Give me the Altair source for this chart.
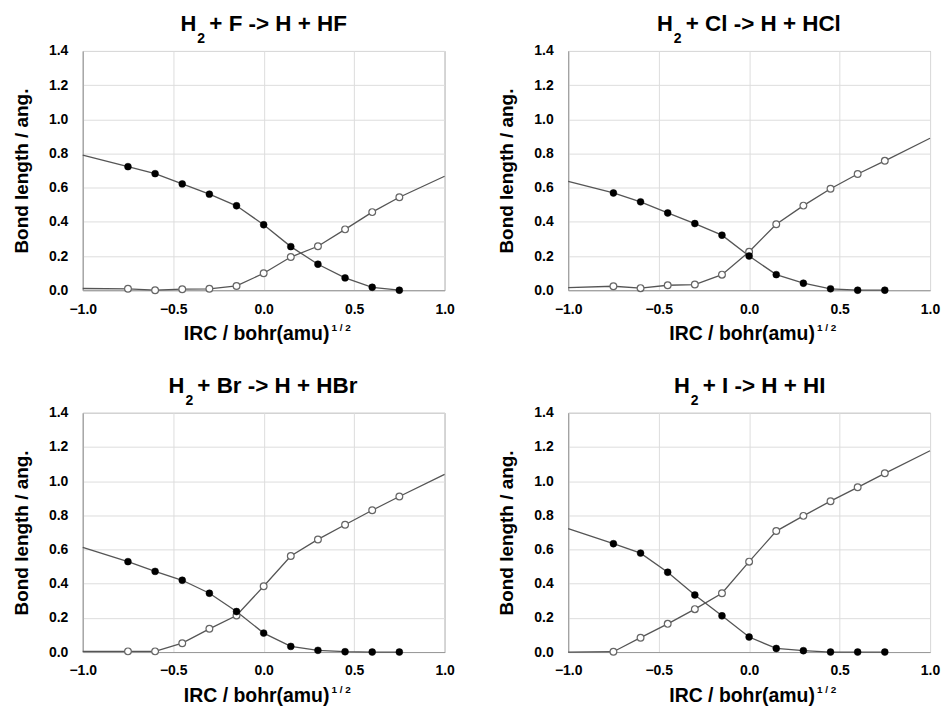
import altair as alt
import pandas as pd

# ---------------- data ----------------
irc = [-1.0, -0.75, -0.6, -0.45, -0.3, -0.15, 0.0, 0.15, 0.3, 0.45, 0.6, 0.75, 1.0]

reaction_rest = ["+ F -> H + HF", "+ Cl -> H + HCl", "+ Br -> H + HBr", "+ I -> H + HI"]

# filled circles (H-X), no value at IRC = 1.0
hx_F = [0.79, 0.723, 0.682, 0.622, 0.562, 0.494, 0.383, 0.255, 0.152, 0.072, 0.017, 0.0, None]
hx_Cl = [0.637, 0.569, 0.517, 0.452, 0.390, 0.322, 0.200, 0.091, 0.041, 0.008, 0.0, 0.0, None]
hx_Br = [0.612, 0.529, 0.472, 0.420, 0.344, 0.237, 0.111, 0.033, 0.010, 0.002, 0.0, 0.0, None]
hx_I = [0.722, 0.634, 0.579, 0.467, 0.334, 0.212, 0.088, 0.021, 0.008, 0.0, 0.0, 0.0, None]

# open circles (H-H)
hh_F = [0.010, 0.008, 0.0, 0.006, 0.008, 0.025, 0.099, 0.194, 0.257, 0.356, 0.457, 0.544, 0.667]
hh_Cl = [0.015, 0.023, 0.012, 0.029, 0.033, 0.091, 0.225, 0.386, 0.495, 0.594, 0.680, 0.757, 0.889]
hh_Br = [0.004, 0.004, 0.004, 0.052, 0.136, 0.214, 0.385, 0.562, 0.659, 0.745, 0.830, 0.910, 1.040]
hh_I = [0.0, 0.002, 0.084, 0.165, 0.251, 0.344, 0.529, 0.708, 0.797, 0.883, 0.964, 1.046, 1.178]

hx_all = [hx_F, hx_Cl, hx_Br, hx_I]
hh_all = [hh_F, hh_Cl, hh_Br, hh_I]

x_ticks = [-1.0, -0.5, 0.0, 0.5, 1.0]
y_ticks = [0.0, 0.2, 0.4, 0.6, 0.8, 1.0, 1.2, 1.4]

y_title = "Bond length / ang."
x_title = "IRC / bohr(amu)"
x_sup = "1 / 2"

# ---------------- layout / style ----------------
FONT = "Liberation Sans"
W, H = 363, 240
title_sub_x = [114, 105, 102, 122]


def panel(i):
    rows = []
    for x, a, b in zip(irc, hx_all[i], hh_all[i]):
        marker = x not in (-1.0, 1.0)
        if a is not None:
            rows.append({"irc": x, "bond": a, "series": "HX", "marker": marker})
        if b is not None:
            rows.append({"irc": x, "bond": b, "series": "HH", "marker": marker})
    df = pd.DataFrame(rows)

    xenc = alt.X(
        "irc:Q",
        scale=alt.Scale(domain=[-1, 1], nice=False),
        axis=alt.Axis(values=x_ticks, format=".1f", title=None, labelFlush=False,
                      labelPadding=12),
    )
    yenc = alt.Y(
        "bond:Q",
        scale=alt.Scale(domain=[0, 1.4], nice=False),
        axis=alt.Axis(values=y_ticks, format=".1f", title=y_title,
                      labelPadding=15, titlePadding=17),
    )
    base = alt.Chart(df).encode(x=xenc, y=yenc)
    lines = base.mark_line(color="#555555", strokeWidth=1.3).encode(detail="series:N")
    open_pts = base.transform_filter("datum.marker && datum.series == 'HH'").mark_point(
        shape="circle", filled=True, fill="white", stroke="#666666", strokeWidth=1.2,
        size=46, opacity=1)
    fill_pts = base.transform_filter("datum.marker && datum.series == 'HX'").mark_point(
        shape="circle", filled=True, fill="black", stroke="black", strokeWidth=0.5,
        size=48, opacity=1)

    one = pd.DataFrame({"k": [0]})
    s = title_sub_x[i]
    t_h = alt.Chart(one).mark_text(text="H", align="right", baseline="alphabetic",
                                   fontSize=22, fontWeight="bold", font=FONT,
                                   color="black").encode(x=alt.value(s), y=alt.value(-20))
    t_2 = alt.Chart(one).mark_text(text="2", align="left", baseline="alphabetic",
                                   fontSize=14, fontWeight="bold", font=FONT,
                                   color="black").encode(x=alt.value(s + 1), y=alt.value(-8))
    t_rest = alt.Chart(one).mark_text(text=reaction_rest[i], align="left", baseline="alphabetic",
                                      fontSize=22.5, fontWeight="bold", font=FONT,
                                      color="black").encode(x=alt.value(s + 13), y=alt.value(-20))
    xt = alt.Chart(one).mark_text(text=x_title, align="right", baseline="alphabetic",
                                  fontSize=19.5, fontWeight="bold", font=FONT,
                                  color="black").encode(x=alt.value(W / 2 + 66), y=alt.value(H + 50))
    xs = alt.Chart(one).mark_text(text=x_sup, align="left", baseline="alphabetic",
                                  fontSize=10, fontWeight="bold", font=FONT,
                                  color="black").encode(x=alt.value(W / 2 + 68), y=alt.value(H + 41))

    return alt.layer(lines, open_pts, fill_pts, t_h, t_2, t_rest, xt, xs).properties(
        width=W, height=H)


row1 = alt.hconcat(panel(0), panel(1), spacing=42)
row2 = alt.hconcat(panel(2), panel(3), spacing=42)

chart = (
    alt.vconcat(row1, row2, spacing=30)
    .properties(padding={"left": 12, "top": 11, "right": 0, "bottom": 0}, background="white")
    .configure_view(stroke="#999999", strokeWidth=1)
    .configure_axis(
        labelFont=FONT, labelFontSize=14, labelFontWeight="bold", labelColor="black",
        titleFont=FONT, titleFontSize=19, titleFontWeight="bold", titleColor="black",
        ticks=False, tickSize=0, domainColor="#999999", domainWidth=1,
        gridColor="#dddddd", gridWidth=1,
    )
)

chart.save("out.html", embed_options={"renderer": "svg", "actions": False})
